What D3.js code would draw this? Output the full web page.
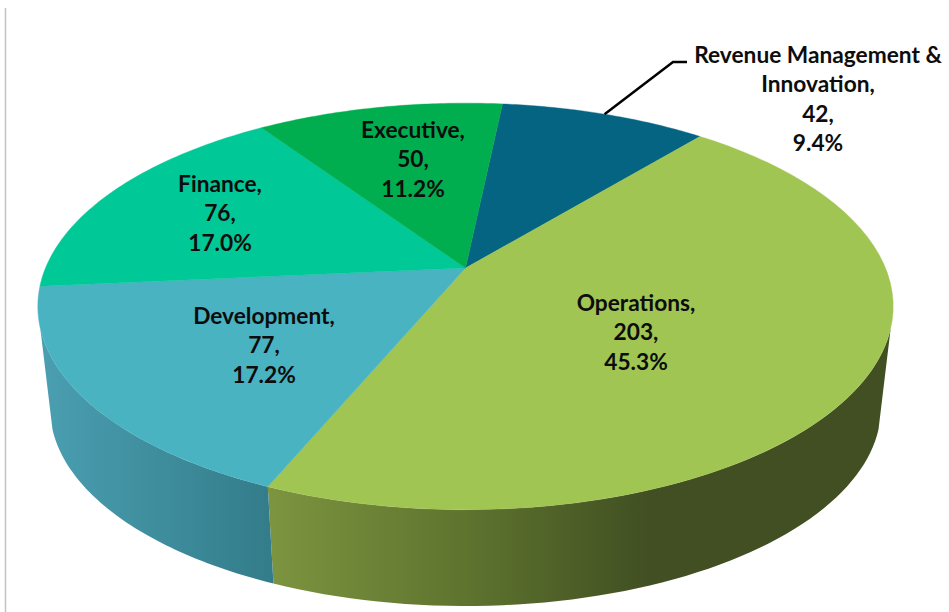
<!DOCTYPE html>
<html>
<head>
<meta charset="utf-8">
<script src="https://cdn.jsdelivr.net/npm/d3@7"></script>
<style>
  html, body { margin: 0; padding: 0; background: #fff; overflow: hidden; }
  svg { display: block; }
  text { font-family: Lato, "Open Sans", sans-serif; font-weight: 700; font-size: 22.7px; fill: #0d0d0d; }
</style>
</head>
<body>
<svg id="chart" width="949" height="612"></svg>
<script>
const categories = ["Revenue Management & Innovation", "Operations", "Development", "Finance", "Executive"];
const values = [42, 203, 77, 76, 50];
const percents = ["9.4%", "45.3%", "17.2%", "17.0%", "11.2%"];
const topColors = ["#066483", "#a0c552", "#4ab3c2", "#00c896", "#00ae4f"];

const width = 949, height = 612;
const svg = d3.select("#chart");

// perspective disc: same circle at two heights
const persp = 0.189;
const topDisc = { cx: 465.5, cy: 268, a: 420, b: 196 };
const baseDisc = { cx: 465.5, cy: 370.5, a: 408, b: 191 };
const startAngle = 6 * Math.PI / 180;
const wallFrom = 107 * Math.PI / 180, wallTo = 253 * Math.PI / 180;

const project = (disc, t) => {
  const w = 1 + persp * Math.cos(t);
  return [disc.cx + disc.a * Math.sin(t) / w, disc.cy - disc.b * Math.cos(t) / w];
};
const arcPoints = (disc, t0, t1) => d3.range(0, 61).map((i) => project(disc, t0 + (t1 - t0) * i / 60));

const line = d3.line();
const color = d3.scaleOrdinal().domain(categories).range(topColors);
const slices = d3.pie().sort(null).startAngle(startAngle).endAngle(startAngle + 2 * Math.PI)(values);

// side wall gradients
const defs = svg.append("defs");
const addGradient = (id, x1, x2, stops) => {
  const g = defs.append("linearGradient").attr("id", id)
    .attr("gradientUnits", "userSpaceOnUse")
    .attr("x1", x1).attr("x2", x2).attr("y1", 0).attr("y2", 0);
  stops.forEach((c, i) => g.append("stop").attr("offset", i / (stops.length - 1)).attr("stop-color", c));
};
addGradient("wall-Operations", 267, 650, ["#7d9440", "#5f752f", "#414f22"]);
addGradient("wall-Development", 40, 272, ["#4a9fb1", "#337c8a"]);

// frame line on the left
svg.append("line").attr("x1", 5.5).attr("x2", 5.5).attr("y1", 8).attr("y2", height)
  .attr("stroke", "#c4c4c4").attr("stroke-width", 1.5);

// walls
svg.append("g").selectAll("path")
  .data(slices.filter((d) => d.endAngle > wallFrom && d.startAngle < wallTo))
  .join("path")
  .attr("d", (d) => {
    const t0 = Math.max(d.startAngle, wallFrom), t1 = Math.min(d.endAngle, wallTo);
    return line(arcPoints(topDisc, t0, t1).concat(arcPoints(baseDisc, t1, t0))) + "Z";
  })
  .attr("fill", (d) => `url(#wall-${categories[d.index]})`);

// top face
svg.append("g").selectAll("path")
  .data(slices)
  .join("path")
  .attr("d", (d) => line([[topDisc.cx, topDisc.cy]].concat(arcPoints(topDisc, d.startAngle, d.endAngle))) + "Z")
  .attr("fill", (d) => color(categories[d.index]))
  .attr("stroke", (d) => color(categories[d.index]))
  .attr("stroke-width", 0.4);

// leader for the outside label
const revenue = slices[0];
const leaderStart = project(topDisc, (revenue.startAngle + revenue.endAngle) / 2);
svg.append("path")
  .attr("d", line([leaderStart, [673, 62], [687, 62]]))
  .attr("fill", "none").attr("stroke", "#000").attr("stroke-width", 2.5);

// labels
const labelLines = [
  ["Revenue Management &", "Innovation,", values[0] + ",", percents[0]],
  [categories[1] + ",", values[1] + ",", percents[1]],
  [categories[2] + ",", values[2] + ",", percents[2]],
  [categories[3] + ",", values[3] + ",", percents[3]],
  [categories[4] + ",", values[4] + ",", percents[4]],
];
const labelAnchors = [[818, 63], [636, 311], [264, 324], [220, 192], [413, 138]];

const labels = svg.append("g").selectAll("text")
  .data(labelLines)
  .join("text")
  .attr("text-anchor", "middle")
  .attr("transform", (d, i) => `translate(${labelAnchors[i]})`);

labels.selectAll("tspan")
  .data((d) => d)
  .join("tspan")
  .attr("x", 0)
  .attr("y", (d, i) => i * 29.4)
  .text((d) => d);
</script>
</body>
</html>
